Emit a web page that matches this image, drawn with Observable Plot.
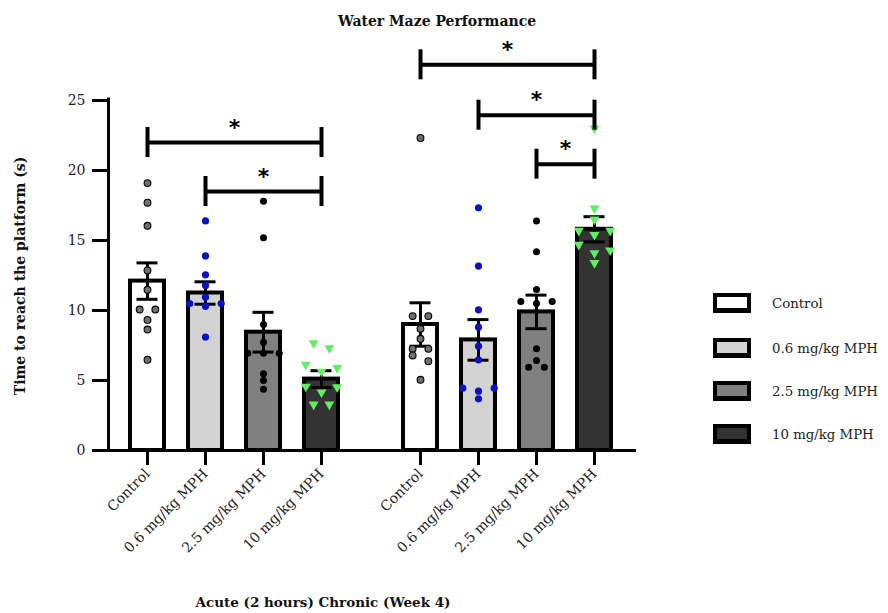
<!DOCTYPE html>
<html>
<head>
<meta charset="utf-8">
<script src="https://cdn.jsdelivr.net/npm/d3@7"></script>
<script src="https://cdn.jsdelivr.net/npm/@observablehq/plot@0.6"></script>
<style>
  body { margin: 0; background: #fff; font-family: "DejaVu Serif", serif; }
  #wrap { position: relative; width: 888px; height: 613px; overflow: hidden; }
  #chart { position: absolute; left: 0; top: 0; }
  .lbl { position: absolute; white-space: nowrap; transform: translate(-50%, -50%); color: #111; }
  .title { left: 437px; top: 21px; font-weight: bold; font-size: 14px; }
  .ylab { left: 20px; top: 276px; font-weight: bold; font-size: 14px; transform: translate(-50%, -50%) rotate(-90deg); }
  .xcap { left: 323px; top: 602px; font-weight: bold; font-size: 13.5px; }
  .leg { position: absolute; left: 713px; display: flex; align-items: center; transform: translateY(-50%); white-space: nowrap; width: 175px; }
  .sw { width: 38px; height: 20px; flex: none; box-sizing: border-box; border: 4px solid #000; border-bottom-width: 5px; }
  .lt { margin-left: 21px; font-size: 13.3px; color: #222; white-space: nowrap; }
</style>
</head>
<body>
<div id="wrap">
  <div id="chart"></div>
</div>
<script>
// ---------- data ----------
const groups = ["Acute (2 hours)", "Chronic (Week 4)"];
const treatments = ["Control", "0.6 mg/kg MPH", "2.5 mg/kg MPH", "10 mg/kg MPH"];
const fills = ["#ffffff", "#d3d3d3", "#808080", "#333333"];

const titleText = "Water Maze Performance";
const yLabel = "Time to reach the platform (s)";
const yTicks = [0, 5, 10, 15, 20, 25];

// bar means and SEM (acute: 4 treatments, chronic: 4 treatments)
const acuteMean = [12.1, 11.25, 8.45, 5.1];
const acuteSem = [1.3, 0.8, 1.42, 0.6];
const chronicMean = [9.0, 7.9, 9.9, 15.8];
const chronicSem = [1.55, 1.45, 1.2, 0.9];

// individual animals
const acuteControl = [19.1, 17.7, 16.05, 12.86, 11.48, 10.07, 10.07, 9.33, 8.64, 6.48];
const acuteLow = [16.4, 13.9, 12.55, 11.79, 10.95, 10.5, 10.5, 10.3, 8.1];
const acuteMid = [17.8, 15.2, 9.0, 7.74, 6.95, 6.95, 6.95, 5.48, 5.0, 4.38];
const acuteHigh = [7.67, 7.31, 6.14, 5.9, 5.64, 4.57, 4.52, 4.16, 3.29, 3.29];
const chronicControl = [22.33, 9.6, 9.6, 8.69, 7.98, 7.26, 7.26, 6.79, 6.38, 5.05];
const chronicLow = [17.34, 13.17, 10.05, 8.81, 7.45, 6.48, 4.45, 4.45, 4.24, 3.69];
const chronicMid = [16.4, 14.2, 11.5, 10.64, 10.64, 10.5, 7.26, 6.43, 5.95, 5.95];
const chronicHigh = [23.0, 17.3, 16.5, 15.7, 15.7, 15.4, 14.7, 14.3, 14.1, 13.4];

// significance brackets
const bracketGroup = ["Acute (2 hours)", "Acute (2 hours)", "Chronic (Week 4)", "Chronic (Week 4)", "Chronic (Week 4)"];
const bracketFrom = ["Control", "0.6 mg/kg MPH", "Control", "0.6 mg/kg MPH", "2.5 mg/kg MPH"];
const bracketTo = ["10 mg/kg MPH", "10 mg/kg MPH", "10 mg/kg MPH", "10 mg/kg MPH", "10 mg/kg MPH"];
const bracketY = [22.0, 18.5, 27.55, 23.95, 20.45];
const bracketLabel = ["*", "*", "*", "*", "*"];

// ---------- tables ----------
const bars = [];
treatments.forEach((t, i) => {
  bars.push({group: groups[0], treatment: t, mean: acuteMean[i], sem: acuteSem[i]});
  bars.push({group: groups[1], treatment: t, mean: chronicMean[i], sem: chronicSem[i]});
});

// simple symmetric scatter layout (rows of near-equal values spread sideways)
function swarmSlots(values, thr) {
  const order = values.map((v, i) => i).sort((a, b) => values[b] - values[a]);
  const slots = new Array(values.length).fill(0);
  let cl = [];
  const flush = () => {
    const n = cl.length;
    const pat = n === 3 ? [-1, 1, 0] : cl.map((_, k) => k - (n - 1) / 2);
    cl.forEach((i, k) => slots[i] = pat[k]);
    cl = [];
  };
  order.forEach(i => {
    if (cl.length && values[cl[cl.length - 1]] - values[i] > thr) flush();
    cl.push(i);
  });
  flush();
  return slots;
}

const pointSets = [
  [groups[0], treatments[0], acuteControl], [groups[0], treatments[1], acuteLow],
  [groups[0], treatments[2], acuteMid], [groups[0], treatments[3], acuteHigh],
  [groups[1], treatments[0], chronicControl], [groups[1], treatments[1], chronicLow],
  [groups[1], treatments[2], chronicMid], [groups[1], treatments[3], chronicHigh]
];
const points = [];
pointSets.forEach(([g, t, vals]) => {
  const slots = swarmSlots(vals, 0.42);
  vals.forEach((v, i) => points.push({group: g, treatment: t, value: v, slot: slots[i]}));
});

const brackets = bracketGroup.map((g, i) => ({group: g, from: bracketFrom[i], to: bracketTo[i], y: bracketY[i], label: bracketLabel[i]}));

// ---------- styles ----------
const SPACING = 15.7;
const dotStyle = {
  "Control": {fill: "#6f6f6f", stroke: "#000", strokeWidth: 1.1, r: 3.4},
  "0.6 mg/kg MPH": {fill: "#0a12c6", r: 3.6},
  "2.5 mg/kg MPH": {fill: "#000", r: 3.5},
  "10 mg/kg MPH": {fill: "#62ee62", symbol: "triangle", rotate: 180, r: 3.7}
};

function baseMarks() {
  const marks = [
    Plot.barY(bars, {fx: "group", x: "treatment", y: "mean", fill: "treatment", stroke: "#000", strokeWidth: 4}),
    Plot.ruleX(bars, {fx: "group", x: "treatment", y1: d => d.mean - d.sem, y2: d => d.mean + d.sem, stroke: "#000", strokeWidth: 3}),
    Plot.tickY(bars, {fx: "group", x: "treatment", y: d => d.mean + d.sem, stroke: "#000", strokeWidth: 3, insetLeft: 6.5, insetRight: 6.5}),
    Plot.tickY(bars, {fx: "group", x: "treatment", y: d => d.mean - d.sem, stroke: "#000", strokeWidth: 3, insetLeft: 6.5, insetRight: 6.5}),
    Plot.ruleY([0], {facetAnchor: "left", stroke: "#000", strokeWidth: 3, insetLeft: -1.5, insetRight: -24}),
    Plot.ruleY([0], {facetAnchor: "right", stroke: "#000", strokeWidth: 3, insetRight: -3}),
    Plot.frame({anchor: "left", facetAnchor: "left", stroke: "#000", strokeWidth: 3, insetTop: -1.5}),
    Plot.axisY({ticks: yTicks, tickSize: 16, tickPadding: 7, strokeWidth: 3, fontSize: 14, label: null, stroke: "#000", fill: "#222"}),
    Plot.axisX({tickSize: 15, tickRotate: -45, tickPadding: 6, strokeWidth: 3, fontSize: 14, label: null, stroke: "#000", fill: "#222"})
  ];
  const slotVals = [...new Set(points.map(p => p.slot))];
  treatments.forEach(t => {
    slotVals.forEach(s => {
      const sub = points.filter(p => p.treatment === t && p.slot === s);
      if (sub.length) marks.push(Plot.dot(sub, {fx: "group", x: "treatment", y: "value", dx: s * SPACING, ...dotStyle[t]}));
    });
  });
  marks.push(
    Plot.link(brackets, {fx: "group", x1: "from", x2: "to", y1: "y", y2: "y", stroke: "#000", strokeWidth: 4}),
    Plot.ruleX(brackets, {fx: "group", x: "from", y1: d => d.y - 1.07, y2: d => d.y + 1.07, stroke: "#000", strokeWidth: 4}),
    Plot.ruleX(brackets, {fx: "group", x: "to", y1: d => d.y - 1.07, y2: d => d.y + 1.07, stroke: "#000", strokeWidth: 4})
  );
  return marks;
}

const plotOptions = (marks) => ({
  width: 888,
  height: 613,
  marginLeft: 107,
  marginRight: 255,
  marginTop: 100,
  marginBottom: 163,
  style: {fontFamily: "DejaVu Serif", background: "transparent", color: "#222"},
  fx: {domain: groups, paddingInner: 0.077, paddingOuter: 0, axis: null, label: null},
  x: {domain: treatments, paddingInner: 0.42, paddingOuter: 0.3675, axis: null, label: null},
  y: {domain: [0, 25], axis: null, label: null},
  color: {domain: treatments, range: fills},
  marks
});

// first pass to read the x scale, so the stars sit at bracket midpoints
const probe = Plot.plot(plotOptions(baseMarks()));
const xs = probe.scale("x");
const marks = baseMarks();
brackets.forEach(b => {
  const half = (xs.apply(b.to) - xs.apply(b.from)) / 2;
  marks.push(Plot.text([b], {fx: "group", x: "from", y: "y", text: "label", dx: half, dy: -15,
    fontSize: 22, fontWeight: "bold", fontFamily: "DejaVu Sans", fill: "#000"}));
});
const chart = Plot.plot(plotOptions(marks));
document.getElementById("chart").appendChild(chart);

// ---------- text & legend ----------
const wrap = document.getElementById("wrap");
function addLabel(cls, text) {
  const d = document.createElement("div");
  d.className = "lbl " + cls;
  d.textContent = text;
  wrap.appendChild(d);
}
addLabel("title", titleText);
addLabel("ylab", yLabel);
addLabel("xcap", groups.join(" "));

const legendTop = [303, 348, 391, 434];
treatments.forEach((t, i) => {
  const row = document.createElement("div");
  row.className = "leg";
  row.style.top = legendTop[i] + "px";
  const sw = document.createElement("div");
  sw.className = "sw";
  sw.style.background = fills[i];
  const lt = document.createElement("span");
  lt.className = "lt";
  lt.textContent = t;
  row.appendChild(sw);
  row.appendChild(lt);
  wrap.appendChild(row);
});
</script>
</body>
</html>
